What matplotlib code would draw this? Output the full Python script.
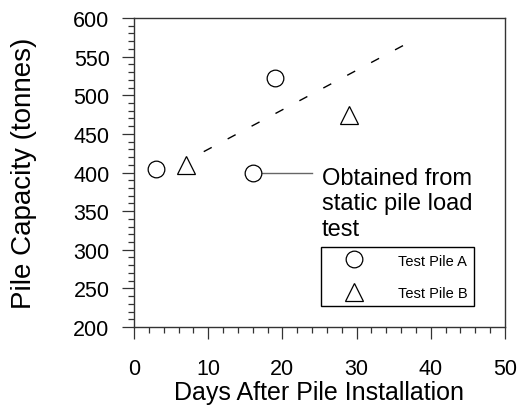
import numpy as np
import matplotlib
matplotlib.use("Agg")
import matplotlib.pyplot as plt
from matplotlib.ticker import MultipleLocator

# Datos
pile_a_days = [3, 16, 19]
pile_a_capacity = [405, 400, 522]
pile_b_days = [7, 29]
pile_b_capacity = [410, 475]

trend_days = [9.4, 36.4]
trend_capacity = [427, 565]

# linea guia de la nota (desde el circulo hasta el texto)
note_days = [17.3, 24.0]
note_capacity = [400, 400]
note_text = "Obtained from\nstatic pile load\ntest"

x_label = "Days After Pile Installation"
y_label = "Pile Capacity (tonnes)"
legend_labels = ["Test Pile A", "Test Pile B"]

plt.rcParams["font.family"] = ["Liberation Sans", "DejaVu Sans"]

fig = plt.figure(figsize=(5.2, 4.06), dpi=100)
ax = fig.add_axes([134 / 520, 1 - 328 / 406, (505 - 134) / 520, (328 - 19) / 406])

ax.plot(trend_days, trend_capacity, color="black", linewidth=1.0,
        linestyle=(0, (6.5, 13)))
ax.plot(note_days, note_capacity, color="#666666", linewidth=1.0)

ha, = ax.plot(pile_a_days, pile_a_capacity, linestyle="none", marker="o",
              markersize=12, markerfacecolor="white", markeredgecolor="black",
              markeredgewidth=0.9)
hb, = ax.plot(pile_b_days, pile_b_capacity, linestyle="none", marker="^",
              markersize=12.5, markerfacecolor="white", markeredgecolor="black",
              markeredgewidth=0.9)

ax.text(25.3, 407, note_text, fontsize=17, va="top", ha="left")

leg = ax.legend([ha, hb], legend_labels, loc="upper left",
                bbox_to_anchor=(321 / 520, 1 - 248 / 406),
                bbox_transform=fig.transFigure, borderaxespad=0,
                fontsize=10.5, handlelength=3.6, handletextpad=1.2,
                labelspacing=1.25, borderpad=0.45, fancybox=False,
                edgecolor="black", framealpha=1)
leg.get_frame().set_linewidth(1.0)

ax.set_xlim(0, 50)
ax.set_ylim(200, 600)
ax.xaxis.set_major_locator(MultipleLocator(10))
ax.xaxis.set_minor_locator(MultipleLocator(2))
ax.yaxis.set_major_locator(MultipleLocator(50))
ax.yaxis.set_minor_locator(MultipleLocator(10))

ax.tick_params(axis="both", which="major", length=8.6, width=0.9,
               direction="out", labelsize=15.5, color="#333333")
ax.tick_params(axis="both", which="minor", length=4, width=0.9,
               direction="out", color="#333333")
ax.tick_params(axis="x", which="major", pad=13.5)
ax.tick_params(axis="y", which="major", pad=9)

for sp in ax.spines.values():
    sp.set_color("#333333")
    sp.set_linewidth(1.0)

ax.set_xlabel(x_label, fontsize=18, labelpad=1)
ax.set_ylabel(y_label, fontsize=20, labelpad=26)

fig.savefig("out.png", dpi=100)
